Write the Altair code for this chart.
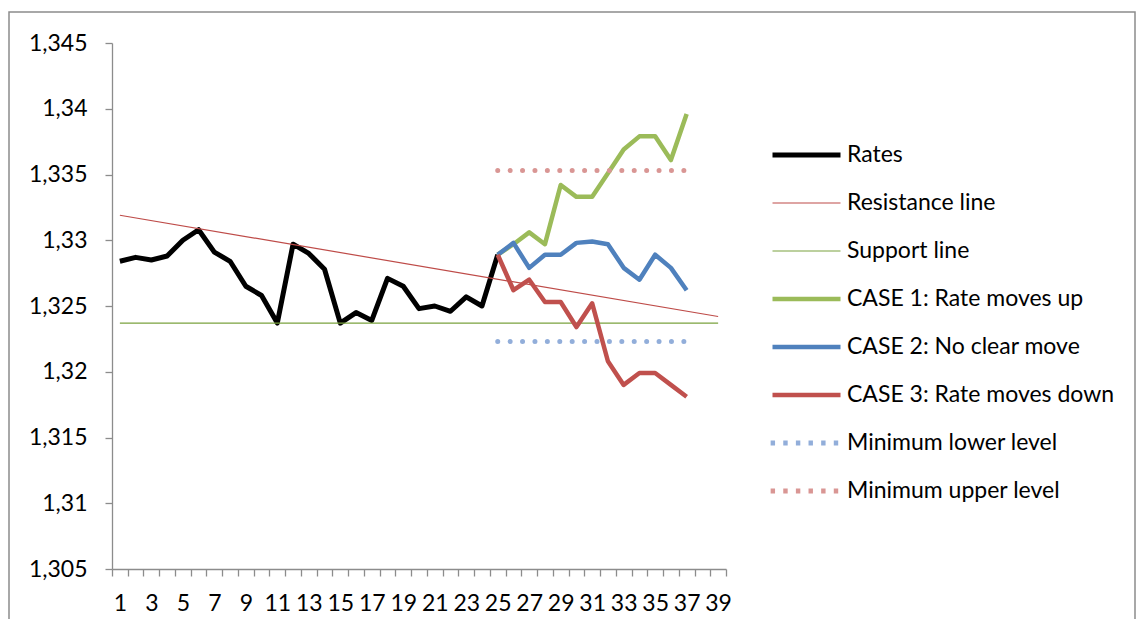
import altair as alt
import pandas as pd

# ---- data ----
categories = list(range(1, 40))
y_ticks = [1.305, 1.31, 1.315, 1.32, 1.325, 1.33, 1.335, 1.34, 1.345]

rate_x = list(range(1, 26))
rates = [1.3284, 1.3287, 1.3285, 1.3288, 1.3300, 1.3308, 1.3291, 1.3284, 1.3265,
         1.3258, 1.3237, 1.3297, 1.3290, 1.3278, 1.3237, 1.3245, 1.3239, 1.3271,
         1.3265, 1.3248, 1.3250, 1.3246, 1.3257, 1.3250, 1.3289]

case_x = list(range(25, 38))
case1 = [1.3289, 1.3297, 1.3306, 1.3297, 1.3342, 1.3333, 1.3333, 1.3351, 1.3369,
         1.3379, 1.3379, 1.3361, 1.3396]
case2 = [1.3289, 1.3298, 1.3279, 1.3289, 1.3289, 1.3298, 1.3299, 1.3297, 1.3279,
         1.3270, 1.3289, 1.3279, 1.3262]
case3 = [1.3289, 1.3262, 1.3270, 1.3253, 1.3253, 1.3234, 1.3252, 1.3208, 1.3190,
         1.3199, 1.3199, 1.3190, 1.3181]

trend_x = [1, 39]
resistance = [1.3319, 1.3242]
support = [1.3237, 1.3237]

level_x = [25, 37]
lower_level = [1.3223, 1.3223]
upper_level = [1.3353, 1.3353]

series_names = ["Rates", "Resistance line", "Support line",
                "CASE 1: Rate moves up", "CASE 2: No clear move", "CASE 3: Rate moves down",
                "Minimum lower level", "Minimum upper level"]
series_colors = ["#000000", "#BE4B48", "#7AA23E", "#9BBB59", "#4F81BD", "#C0504D",
                 "#92AEDA", "#D99694"]

# ---- long table ----
rows = []
def add(name, xs, ys):
    for xv, yv in zip(xs, ys):
        rows.append({"series": name, "x": xv, "y": yv})

add(series_names[0], rate_x, rates)
add(series_names[1], trend_x, resistance)
add(series_names[2], trend_x, support)
add(series_names[3], case_x, case1)
add(series_names[4], case_x, case2)
add(series_names[5], case_x, case3)
add(series_names[6], level_x, lower_level)
add(series_names[7], level_x, upper_level)
df = pd.DataFrame(rows)

# legend glyphs (path unit = sqrt(symbolSize)/2 = 17 px): a stroke drawn to the right of
# the symbol anchor, and a row of six short dots
solid_glyph = "M0,0H4"
dot_glyph = "".join(
    "M{:.3f},0H{:.3f}".format(0.02 + 0.743 * i - 0.13, 0.02 + 0.743 * i + 0.13)
    for i in range(6))

shape_expr = ("indexof(['Minimum lower level','Minimum upper level'], datum.value) >= 0 ? '"
              + dot_glyph + "' : '" + solid_glyph + "'")
sw_expr = ("(datum.value == 'Resistance line' || datum.value == 'Support line') ? 1.2 : "
           "(indexof(['CASE 1: Rate moves up','CASE 2: No clear move','CASE 3: Rate moves down'], "
           "datum.value) >= 0 ? 4.5 : 5)")

legend = alt.Legend(title=None, orient="none", legendX=649, legendY=88,
                    symbolType=alt.ExprRef(expr=shape_expr), symbolSize=1156,
                    symbolStrokeWidth=alt.ExprRef(expr=sw_expr),
                    clipHeight=48, rowPadding=0, padding=0,
                    labelFont="Lato", labelFontSize=23, labelColor="#000000",
                    labelOffset=63, labelLimit=0)

base = alt.Chart(df).encode(
    x=alt.X("x:O",
            scale=alt.Scale(type="band", domain=categories, paddingInner=0, paddingOuter=0),
            bandPosition=0.5,
            axis=alt.Axis(title=None, tickBand="extent", labelAngle=0, tickSize=7,
                          labelPadding=16, labelFont="Lato", labelFontSize=23,
                          labelColor="#000000", labelOverlap=False, grid=False,
                          labelExpr="datum.value % 2 == 1 ? datum.label : ''")),
    y=alt.Y("y:Q",
            scale=alt.Scale(domain=[y_ticks[0], y_ticks[-1]], nice=False, zero=False),
            axis=alt.Axis(title=None, values=y_ticks, tickSize=7, labelPadding=18,
                          labelFont="Lato", labelFontSize=23, labelColor="#000000",
                          grid=False,
                          labelExpr="replace(format(datum.value, '.3~f'), '.', ',')")),
    color=alt.Color("series:N", scale=alt.Scale(domain=series_names, range=series_colors),
                    legend=legend),
)

rates_layer = base.transform_filter(alt.datum.series == series_names[0]).mark_line(
    strokeWidth=5, strokeJoin="round")
thin_layer = base.transform_filter(
    alt.FieldOneOfPredicate(field="series", oneOf=series_names[1:3])).mark_line(strokeWidth=1.2)
case_layer = base.transform_filter(
    alt.FieldOneOfPredicate(field="series", oneOf=series_names[3:6])).mark_line(
    strokeWidth=4.5, strokeJoin="round")
dot_layer = base.transform_filter(
    alt.FieldOneOfPredicate(field="series", oneOf=series_names[6:8])).mark_line(
    strokeWidth=5, strokeCap="round", strokeDash=[0.01, 12.4])

frame = alt.Chart(pd.DataFrame({"frame": [0]})).mark_rect(
    filled=False, stroke="#8C8C8C", strokeWidth=1.5).encode(
    x=alt.value(-103), x2=alt.value(1023), y=alt.value(-31), y2=alt.value(600))

chart = alt.layer(frame, rates_layer, thin_layer, case_layer, dot_layer).properties(
    width=614, height=526,
    autosize=alt.AutoSizeParams(type="none"),
    padding={"left": 104, "top": 35, "right": 410, "bottom": 50},
    background="white",
).configure_view(stroke=None).configure_axis(
    domainColor="#8C8C8C", tickColor="#8C8C8C", domainWidth=1.3, tickWidth=1.3)

chart.save("out.html", embed_options={"renderer": "svg", "actions": False})
